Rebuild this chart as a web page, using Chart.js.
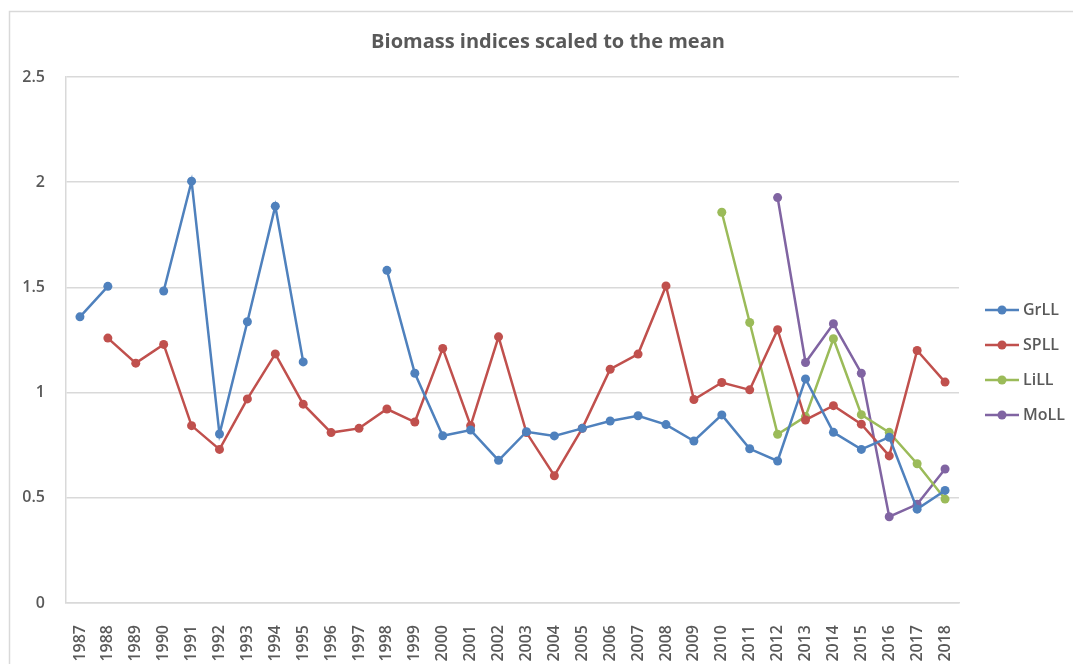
<!DOCTYPE html>
<html>
<head>
<meta charset="utf-8">
<script src="https://cdn.jsdelivr.net/npm/chart.js@4/dist/chart.umd.min.js"></script>
<style>
	html, body { margin: 0; padding: 0; background: #fff; }
	#wrap { width: 1073px; height: 664px; position: relative; }
</style>
</head>
<body>
<div id="wrap"><canvas id="chart"></canvas></div>
<script>
const years = ['1987', '1988', '1989', '1990', '1991', '1992', '1993', '1994', '1995', '1996',
	'1997', '1998', '1999', '2000', '2001', '2002', '2003', '2004', '2005', '2006', '2007',
	'2008', '2009', '2010', '2011', '2012', '2013', '2014', '2015', '2016', '2017', '2018'];

const grLL = [1.36, 1.505, null, 1.483, 2.005, 0.803, 1.337, 1.886, 1.146, null,
	null, 1.581, 1.092, 0.795, 0.822, 0.678, 0.814, 0.794, 0.830, 0.865, 0.890,
	0.848, 0.770, 0.894, 0.733, 0.675, 1.065, 0.811, 0.730, 0.788, 0.446, 0.535];

const spLL = [null, 1.259, 1.140, 1.229, 0.843, 0.730, 0.970, 1.184, 0.945, 0.810,
	0.830, 0.922, 0.860, 1.210, 0.843, 1.265, 0.810, 0.605, 0.830, 1.111, 1.183,
	1.507, 0.967, 1.048, 1.013, 1.299, 0.870, 0.938, 0.850, 0.699, 1.200, 1.050];

const liLL = [null, null, null, null, null, null, null, null, null, null,
	null, null, null, null, null, null, null, null, null, null, null,
	null, null, 1.857, 1.333, 0.802, 0.886, 1.256, 0.895, 0.811, 0.662, 0.494];

const moLL = [null, null, null, null, null, null, null, null, null, null,
	null, null, null, null, null, null, null, null, null, null, null,
	null, null, null, null, 1.927, 1.143, 1.327, 1.092, 0.410, 0.469, 0.637];

const chartTitle = 'Biomass indices scaled to the mean';

const textGrey = '#595959';
const gridGrey = '#d9d9d9';
const font = '"Open Sans", "DejaVu Sans", sans-serif';

function series(label, data, color) {
	return {
		label: label,
		data: data,
		borderColor: color,
		backgroundColor: color,
		borderWidth: 2.5,
		pointRadius: 4.5,
		pointBorderWidth: 0,
		pointBackgroundColor: color,
		tension: 0,
		spanGaps: false,
	};
}

// outer frame + title centred on the whole picture (excel style)
const framePlugin = {
	id: 'frame',
	beforeDraw(chart) {
		const ctx = chart.ctx;
		ctx.save();
		ctx.strokeStyle = gridGrey;
		ctx.lineWidth = 1.5;
		ctx.strokeRect(9.5, 11.5, 1200, 800);
		ctx.fillStyle = textGrey;
		ctx.font = 'bold 20px ' + font;
		ctx.textAlign = 'center';
		ctx.textBaseline = 'middle';
		ctx.fillText(chartTitle, 548, 42);
		ctx.restore();
	},
};

// legend on the right: line with dot, then the name
const sideLegend = {
	id: 'sideLegend',
	afterDraw(chart) {
		const ctx = chart.ctx;
		ctx.save();
		chart.data.datasets.forEach((ds, i) => {
			const y = 310 + i * 35;
			ctx.strokeStyle = ds.borderColor;
			ctx.lineWidth = 2.5;
			ctx.beginPath();
			ctx.moveTo(985, y);
			ctx.lineTo(1019, y);
			ctx.stroke();
			ctx.fillStyle = ds.borderColor;
			ctx.beginPath();
			ctx.arc(1002, y, 4.5, 0, Math.PI * 2);
			ctx.fill();
			ctx.fillStyle = textGrey;
			ctx.font = '600 16px ' + font;
			ctx.textBaseline = 'middle';
			ctx.textAlign = 'left';
			ctx.fillText(ds.label, 1023, y);
		});
		ctx.restore();
	},
};

new Chart(document.getElementById('chart'), {
	type: 'line',
	data: {
		labels: years,
		datasets: [
			series('GrLL', grLL, '#4f81bd'),
			series('SPLL', spLL, '#c0504d'),
			series('LiLL', liLL, '#9bbb59'),
			series('MoLL', moLL, '#8064a2'),
		],
	},
	plugins: [framePlugin, sideLegend],
	options: {
		responsive: true,
		maintainAspectRatio: false,
		animation: false,
		events: [],
		layout: {
			padding: { left: 10, right: 114, top: 77, bottom: 0 },
		},
		plugins: {
			legend: { display: false },
			tooltip: { enabled: false },
			title: { display: false },
		},
		scales: {
			x: {
				offset: true,
				grid: { display: false },
				border: { display: true, color: gridGrey, width: 1.5 },
				ticks: {
					color: textGrey,
					font: { family: font, size: 16, weight: '600' },
					minRotation: 90,
					maxRotation: 90,
					autoSkip: false,
					padding: 14,
				},
				afterFit(scale) {
					scale.height = 61;
				},
			},
			y: {
				min: 0,
				max: 2.5,
				grid: { color: gridGrey, lineWidth: 1.5, drawTicks: false },
				border: { display: true, color: gridGrey, width: 1.5 },
				ticks: {
					stepSize: 0.5,
					color: textGrey,
					font: { family: font, size: 16, weight: '600' },
					padding: 21,
					callback: (value) => String(Number(value)),
				},
				afterFit(scale) {
					scale.width = 56;
				},
			},
		},
	},
});
</script>
</body>
</html>
